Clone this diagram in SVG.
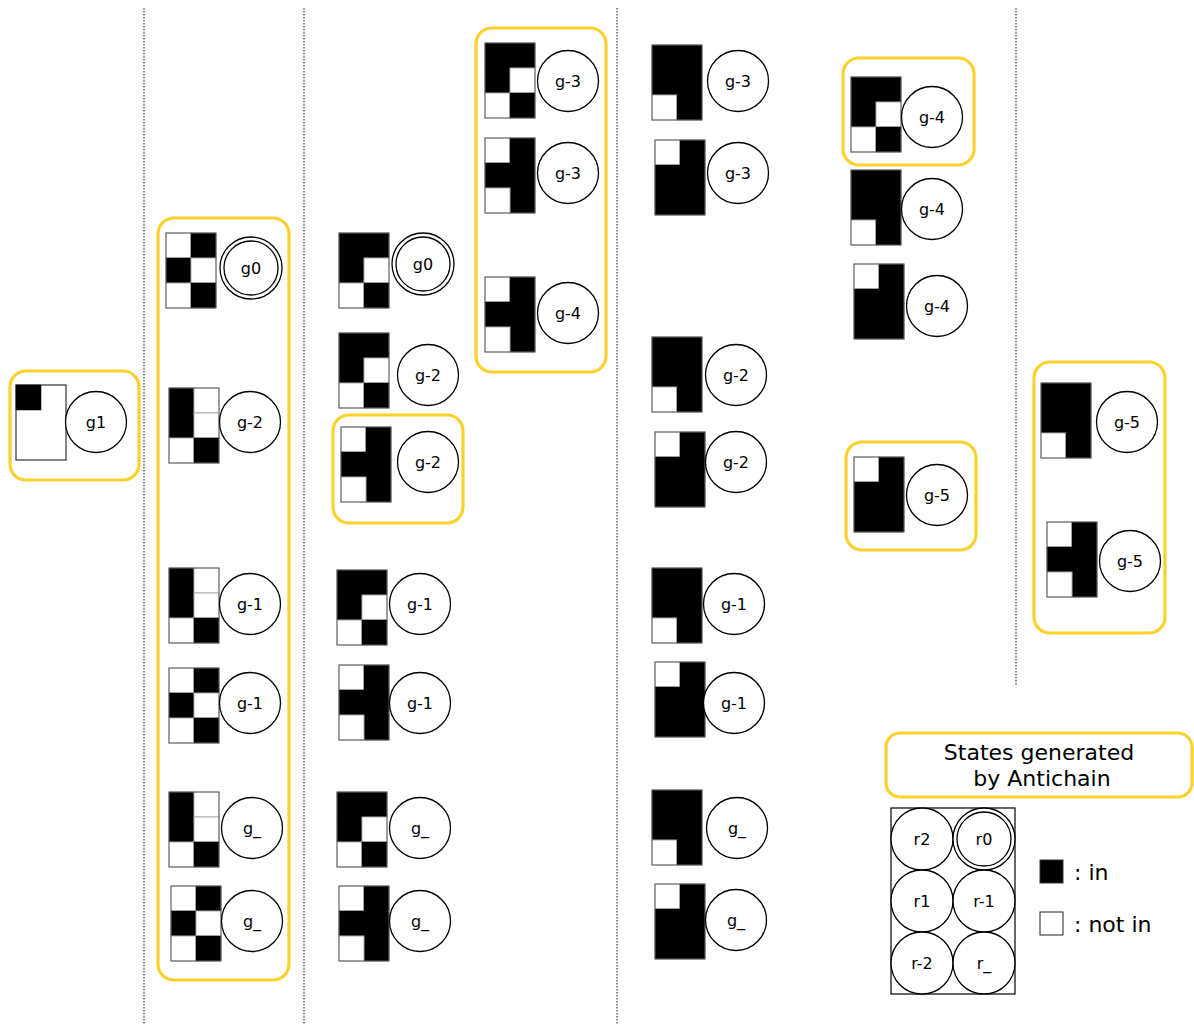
<svg xmlns="http://www.w3.org/2000/svg" xmlns:xlink="http://www.w3.org/1999/xlink" width="1194" height="1025" viewBox="0 0 1194 1025">
<style>
.k{fill:#000;stroke:#000;stroke-width:0.5}
.w{fill:#fff;stroke:#aaa;stroke-width:1}
.o{fill:none;stroke:#666;stroke-width:1}
.c{fill:#fff;stroke:#000;stroke-width:1.3}
.t{font-family:"DejaVu Sans",sans-serif;font-size:16px;text-anchor:middle;fill:#000}
.y{fill:none;stroke:#fcd12c;stroke-width:3.2}
.d{stroke:#111;stroke-width:1;stroke-dasharray:1.5,1.5}
.lg{font-family:"DejaVu Sans",sans-serif;font-size:22px;fill:#000}
</style>
<defs>
<g id="pA"><rect class="w" x="0" y="0" width="25" height="25"/><rect class="k" x="25" y="0" width="25" height="25"/><rect class="k" x="0" y="25" width="25" height="25"/><rect class="w" x="25" y="25" width="25" height="25"/><rect class="w" x="0" y="50" width="25" height="25"/><rect class="k" x="25" y="50" width="25" height="25"/><rect class="o" width="50" height="75"/></g>
<g id="pB"><rect class="k" x="0" y="0" width="25" height="50"/><rect class="w" x="25" y="0" width="25" height="25"/><rect class="w" x="25" y="25" width="25" height="25"/><rect class="w" x="0" y="50" width="25" height="25"/><rect class="k" x="25" y="50" width="25" height="25"/><rect class="o" width="50" height="75"/></g>
<g id="pC"><rect class="k" x="0" y="0" width="50" height="25"/><rect class="k" x="0" y="25" width="25" height="25"/><rect class="w" x="25" y="25" width="25" height="25"/><rect class="w" x="0" y="50" width="25" height="25"/><rect class="k" x="25" y="50" width="25" height="25"/><rect class="o" width="50" height="75"/></g>
<g id="pD"><rect class="w" x="0" y="0" width="25" height="25"/><rect class="k" x="25" y="0" width="25" height="75"/><rect class="k" x="0" y="25" width="25" height="25"/><rect class="w" x="0" y="50" width="25" height="25"/><rect class="o" width="50" height="75"/></g>
<g id="pE"><rect class="k" x="0" y="0" width="50" height="50"/><rect class="w" x="0" y="50" width="25" height="25"/><rect class="k" x="25" y="50" width="25" height="25"/><rect class="o" width="50" height="75"/></g>
<g id="pF"><rect class="w" x="0" y="0" width="25" height="25"/><rect class="k" x="25" y="0" width="25" height="25"/><rect class="k" x="0" y="25" width="50" height="50"/><rect class="o" width="50" height="75"/></g>
</defs>

<g id="connectors">
<line class="d" x1="144" y1="8" x2="144" y2="1025"/>
<line class="d" x1="304" y1="8" x2="304" y2="1025"/>
<line class="d" x1="617" y1="8" x2="617" y2="1025"/>
<line class="d" x1="1016" y1="8" x2="1016" y2="686"/>
</g>

<g id="groups">
<rect class="y" x="10" y="371" width="129" height="109" rx="16"/>
<rect class="y" x="158" y="218" width="131" height="762" rx="16"/>
<rect class="y" x="333" y="415" width="130" height="108" rx="16"/>
<rect class="y" x="476" y="28" width="130" height="344" rx="16"/>
<rect class="y" x="843" y="58" width="131" height="107" rx="16"/>
<rect class="y" x="846" y="442" width="130" height="108" rx="16"/>
<rect class="y" x="1034" y="362" width="131" height="271" rx="16"/>
</g>

<g id="n-g1"><rect x="16" y="385" width="50" height="75" fill="#fff" stroke="#333" stroke-width="1.2"/><rect class="k" x="16" y="385" width="25" height="25"/><circle class="c" cx="96" cy="422" r="30.5"/><text class="t" x="96" y="428">g1</text></g>

<g id="n-c2-g0"><use xlink:href="#pA" x="166" y="233"/><circle class="c" cx="251" cy="268" r="31"/><circle class="c" cx="251" cy="268" r="27" fill="none"/><text class="t" x="251" y="274">g0</text></g>
<g id="n-c2-g-2"><use xlink:href="#pB" x="169" y="388"/><circle class="c" cx="250" cy="422" r="30.5"/><text class="t" x="250" y="428">g-2</text></g>
<g id="n-c2-g-1a"><use xlink:href="#pB" x="169" y="568"/><circle class="c" cx="250" cy="604" r="30.5"/><text class="t" x="250" y="610">g-1</text></g>
<g id="n-c2-g-1b"><use xlink:href="#pA" x="169" y="668"/><circle class="c" cx="250" cy="703" r="30.5"/><text class="t" x="250" y="709">g-1</text></g>
<g id="n-c2-g_a"><use xlink:href="#pB" x="169" y="792"/><circle class="c" cx="252" cy="828" r="30.5"/><text class="t" x="252" y="834">g_</text></g>
<g id="n-c2-g_b"><use xlink:href="#pA" x="171" y="886"/><circle class="c" cx="252" cy="921" r="30.5"/><text class="t" x="252" y="927">g_</text></g>

<g id="n-c3-g0"><use xlink:href="#pC" x="339" y="233"/><circle class="c" cx="423" cy="264" r="31"/><circle class="c" cx="423" cy="264" r="27" fill="none"/><text class="t" x="423" y="270">g0</text></g>
<g id="n-c3-g-2a"><use xlink:href="#pC" x="339" y="333"/><circle class="c" cx="428" cy="375" r="30.5"/><text class="t" x="428" y="381">g-2</text></g>
<g id="n-c3-g-2b"><use xlink:href="#pD" x="341" y="427"/><circle class="c" cx="428" cy="462" r="30.5"/><text class="t" x="428" y="468">g-2</text></g>
<g id="n-c3-g-1a"><use xlink:href="#pC" x="337" y="570"/><circle class="c" cx="420" cy="604" r="30.5"/><text class="t" x="420" y="610">g-1</text></g>
<g id="n-c3-g-1b"><use xlink:href="#pD" x="339" y="665"/><circle class="c" cx="420" cy="703" r="30.5"/><text class="t" x="420" y="709">g-1</text></g>
<g id="n-c3-g_a"><use xlink:href="#pC" x="337" y="792"/><circle class="c" cx="420" cy="828" r="30.5"/><text class="t" x="420" y="834">g_</text></g>
<g id="n-c3-g_b"><use xlink:href="#pD" x="339" y="886"/><circle class="c" cx="420" cy="921" r="30.5"/><text class="t" x="420" y="927">g_</text></g>

<g id="n-c4-g-3a"><use xlink:href="#pC" x="485" y="43"/><circle class="c" cx="568" cy="81" r="30.5"/><text class="t" x="568" y="87">g-3</text></g>
<g id="n-c4-g-3b"><use xlink:href="#pD" x="485" y="138"/><circle class="c" cx="568" cy="173" r="30.5"/><text class="t" x="568" y="179">g-3</text></g>
<g id="n-c4-g-4"><use xlink:href="#pD" x="485" y="277"/><circle class="c" cx="568" cy="313" r="30.5"/><text class="t" x="568" y="319">g-4</text></g>

<g id="n-c5-g-3a"><use xlink:href="#pE" x="652" y="45"/><circle class="c" cx="738" cy="81" r="30.5"/><text class="t" x="738" y="87">g-3</text></g>
<g id="n-c5-g-3b"><use xlink:href="#pF" x="655" y="140"/><circle class="c" cx="738" cy="173" r="30.5"/><text class="t" x="738" y="179">g-3</text></g>
<g id="n-c5-g-2a"><use xlink:href="#pE" x="652" y="337"/><circle class="c" cx="736" cy="375" r="30.5"/><text class="t" x="736" y="381">g-2</text></g>
<g id="n-c5-g-2b"><use xlink:href="#pF" x="655" y="432"/><circle class="c" cx="736" cy="462" r="30.5"/><text class="t" x="736" y="468">g-2</text></g>
<g id="n-c5-g-1a"><use xlink:href="#pE" x="652" y="568"/><circle class="c" cx="734" cy="604" r="30.5"/><text class="t" x="734" y="610">g-1</text></g>
<g id="n-c5-g-1b"><use xlink:href="#pF" x="655" y="662"/><circle class="c" cx="734" cy="703" r="30.5"/><text class="t" x="734" y="709">g-1</text></g>
<g id="n-c5-g_a"><use xlink:href="#pE" x="652" y="790"/><circle class="c" cx="737" cy="828" r="30.5"/><text class="t" x="737" y="834">g_</text></g>
<g id="n-c5-g_b"><use xlink:href="#pF" x="655" y="884"/><circle class="c" cx="736" cy="920" r="30.5"/><text class="t" x="736" y="926">g_</text></g>

<g id="n-c6-g-4a"><use xlink:href="#pC" x="851" y="77"/><circle class="c" cx="932" cy="117" r="30.5"/><text class="t" x="932" y="123">g-4</text></g>
<g id="n-c6-g-4b"><use xlink:href="#pE" x="851" y="170"/><circle class="c" cx="932" cy="209" r="30.5"/><text class="t" x="932" y="215">g-4</text></g>
<g id="n-c6-g-4c"><use xlink:href="#pF" x="854" y="264"/><circle class="c" cx="937" cy="306" r="30.5"/><text class="t" x="937" y="312">g-4</text></g>
<g id="n-c6-g-5"><use xlink:href="#pF" x="854" y="457"/><circle class="c" cx="937" cy="495" r="30.5"/><text class="t" x="937" y="501">g-5</text></g>

<g id="n-c7-g-5a"><use xlink:href="#pE" x="1041" y="383"/><circle class="c" cx="1127" cy="422" r="30.5"/><text class="t" x="1127" y="428">g-5</text></g>
<g id="n-c7-g-5b"><use xlink:href="#pD" x="1047" y="522"/><circle class="c" cx="1130" cy="561" r="30.5"/><text class="t" x="1130" y="567">g-5</text></g>

<g id="legend">
<rect class="y" x="886" y="733" width="306" height="64" rx="14"/>
<text class="lg" x="1039" y="760" text-anchor="middle">States generated</text>
<text class="lg" x="1042" y="786" text-anchor="middle">by Antichain</text>
<rect x="891" y="808" width="124" height="186" fill="#fff" stroke="#000" stroke-width="1.2"/>
<circle class="c" cx="922" cy="839" r="31"/><text class="t" x="922" y="845">r2</text>
<circle class="c" cx="984" cy="839" r="31"/><circle class="c" cx="984" cy="839" r="27" fill="none"/><text class="t" x="984" y="845">r0</text>
<circle class="c" cx="922" cy="901" r="31"/><text class="t" x="922" y="907">r1</text>
<circle class="c" cx="984" cy="901" r="31"/><text class="t" x="984" y="907">r-1</text>
<circle class="c" cx="922" cy="963" r="31"/><text class="t" x="922" y="969">r-2</text>
<circle class="c" cx="984" cy="963" r="31"/><text class="t" x="984" y="969">r_</text>
<rect x="1040" y="860" width="23" height="23" fill="#000" stroke="#333"/>
<text class="lg" x="1074" y="880">: in</text>
<rect x="1040" y="912" width="23" height="23" fill="#fff" stroke="#222"/>
<text class="lg" x="1074" y="932">: not in</text>
</g>
</svg>
